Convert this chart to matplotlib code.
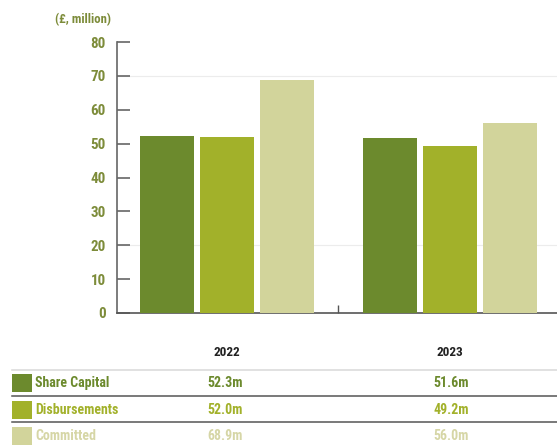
import matplotlib
matplotlib.use("Agg")
import matplotlib.pyplot as plt
from matplotlib.lines import Line2D
from matplotlib.patches import Rectangle
import numpy as np

years = ["2022", "2023"]
series = ["Share Capital", "Disbursements", "Committed"]
share_capital = [52.3, 51.6]
disbursements = [52.0, 49.2]
committed = [68.9, 56.0]
yticks = [0, 10, 20, 30, 40, 50, 60, 70, 80]

bar_colors = ["#6c8a2d", "#a2b12a", "#d2d49b"]
text_colors = ["#6c8a2d", "#a2b12a", "#d6d6a6"]
tick_color = "#7d8c3a"
fonts = ["Roboto Condensed", "Liberation Sans Narrow", "DejaVu Sans"]
txt = dict(fontweight="bold", family=fonts, fontstretch="condensed")

W, H = 557, 445
fig = plt.figure(figsize=(W / 100, H / 100), dpi=100)
fig.patch.set_facecolor("white")

def fx(px):
    return px / W

def fy(py):
    return 1 - py / H

ax = fig.add_axes([fx(117), fy(313), fx(557) - fx(117), fy(42) - fy(313)])

x = np.arange(len(years))
step = 0.269
width = 0.245
for i, vals in enumerate([share_capital, disbursements, committed]):
    ax.bar(x + (i - 1) * step, vals, width, color=bar_colors[i],
           edgecolor="none", zorder=3)

ax.set_xlim(-0.493, 1.48)
ax.set_ylim(0, 80)
ax.set_yticks(yticks)
ax.set_yticklabels([str(v) for v in yticks], color=tick_color,
                   fontsize=10.8, **txt)
ax.tick_params(axis="y", direction="in", length=9, width=1.2,
               color="#666666", pad=8)
ax.set_xticks([0.5])
ax.set_xticklabels([""])
ax.tick_params(axis="x", direction="in", length=6, width=1, color="#555555")

for v in [20, 70]:
    ax.axhline(v, color="#ececec", lw=0.8, zorder=1)

for s in ["top", "right"]:
    ax.spines[s].set_visible(False)
ax.spines["left"].set_color("#666666")
ax.spines["bottom"].set_color("#555555")
ax.spines["left"].set_linewidth(1.2)
ax.spines["bottom"].set_linewidth(1.2)

fig.text(fx(55), fy(20), "(\u00a3, million)", color=tick_color, fontsize=9.2,
         va="center", ha="left", **txt)

# table under the chart
col_x = [fx(227), fx(450)]
val_x = [fx(207), fx(433)]
for cx, yr in zip(col_x, years):
    fig.text(cx, fy(353), yr, ha="center", va="center", fontsize=9.5,
             color="#222222", **txt)

sep_y = [370, 396, 422]
sep_c = ["#d8d8d8", "#555555", "#555555"]
for sy, sc in zip(sep_y, sep_c):
    fig.add_artist(Line2D([fx(12), 1.0], [fy(sy), fy(sy)], color=sc,
                          lw=1.1, transform=fig.transFigure))

row_y = [383, 410, 436]
values = [share_capital, disbursements, committed]
for i, name in enumerate(series):
    ry = row_y[i]
    fig.add_artist(Rectangle((fx(12), fy(ry + 9)), fx(20), fy(ry - 9) - fy(ry + 9),
                             facecolor=bar_colors[i], edgecolor="none",
                             transform=fig.transFigure))
    fig.text(fx(35), fy(ry), name, ha="left", va="center", fontsize=10,
             color=text_colors[i], **txt)
    for vx, v in zip(val_x, values[i]):
        fig.text(vx, fy(ry), f"{v:.1f}m", ha="left", va="center",
                 fontsize=10, color=text_colors[i], **txt)

fig.savefig("out.png", dpi=100, facecolor="white")
